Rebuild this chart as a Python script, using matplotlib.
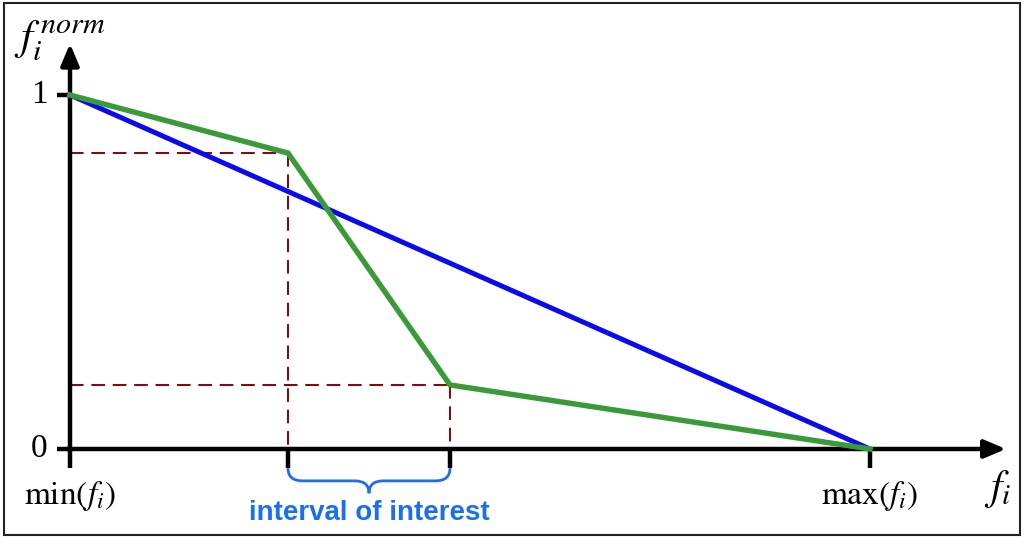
import numpy as np
import matplotlib.pyplot as plt
from matplotlib.patches import Rectangle
from matplotlib.path import Path
from matplotlib.patches import PathPatch

plt.rcParams['mathtext.fontset'] = 'stix'
plt.rcParams['font.family'] = ['Liberation Serif', 'DejaVu Serif']

# data
linear_x = [0.0, 1.0]
linear_y = [1.0, 0.0]
focus_x = [0.0, 0.2725, 0.475, 1.0]
focus_y = [1.0, 0.836, 0.181, 0.0]
interval = [focus_x[1], focus_x[2]]
x_labels = [r'$\mathrm{min}(f_i)$', r'$\mathrm{max}(f_i)$']
y_labels = ['0', '1']

fig = plt.figure(figsize=(10.24, 5.38), dpi=100)
ax = fig.add_axes([0, 0, 1, 1])
ax.set_xlim(-70 / 800, 954 / 800)
ax.set_ylim(-89 / 354, 449 / 354)
ax.axis('off')

# frame around figure
fig.patches.append(Rectangle((0.004, 0.006), 0.992, 0.988, transform=fig.transFigure,
                             fill=False, edgecolor='#222222', linewidth=1.5))

# dashed guides
for x0, y0 in zip(focus_x[1:3], focus_y[1:3]):
    ax.plot([0, x0], [y0, y0], color='#8b0000', lw=1.4, dashes=(7, 4), zorder=2)
    ax.plot([x0, x0], [y0, 0], color='#8b0000', lw=1.4, dashes=(7, 4), zorder=2)

# axes with arrows
arrow = dict(arrowstyle='-|>,head_length=1.3,head_width=0.55', lw=3.2, color='black',
             shrinkA=0, shrinkB=0)
ax.annotate('', xy=(1.17, 0), xytext=(-0.004, 0), arrowprops=arrow, zorder=3)
ax.annotate('', xy=(0, 1.145), xytext=(0, -0.006), arrowprops=arrow, zorder=3)

# ticks
for xt in [0.0, interval[0], interval[1], 1.0]:
    ax.plot([xt, xt], [0, -0.054], color='black', lw=3.2, solid_capstyle='butt', zorder=3)
for yt in [0.0, 1.0]:
    ax.plot([-0.016, 0], [yt, yt], color='black', lw=3.2, solid_capstyle='butt', zorder=3)

# lines
ax.plot(linear_x, linear_y, color='#0a0aee', lw=3.6, zorder=4)
ax.plot(focus_x, focus_y, color='#3a9a3a', lw=3.9, zorder=5, solid_joinstyle='miter')

# labels
ax.text(-0.028, 1.0, y_labels[1], fontsize=24, ha='right', va='center')
ax.text(-0.028, 0.0, y_labels[0], fontsize=24, ha='right', va='center')
ax.text(0.0, -0.085, x_labels[0], fontsize=24, ha='center', va='top')
ax.text(1.0, -0.085, x_labels[1], fontsize=24, ha='center', va='top')
ax.text(1.16, -0.055, r'$f_i$', fontsize=30, ha='center', va='top')
ax.text(-0.07, 1.09, r'$f_i^{\,norm}$', fontsize=31, ha='left', va='bottom')

# brace under interval of interest
xa, xb = interval
xm = (xa + xb) / 2
y0, y1, y2 = -0.054, -0.09, -0.125
r = 0.018
verts = [(xa, y0), (xa, y1), (xa + r, y1),
         (xm - r, y1), (xm, y1), (xm, y2),
         (xm, y1), (xm + r, y1),
         (xb - r, y1), (xb, y1), (xb, y0)]
codes = [Path.MOVETO, Path.CURVE3, Path.CURVE3,
         Path.LINETO, Path.CURVE3, Path.CURVE3,
         Path.CURVE3, Path.CURVE3,
         Path.LINETO, Path.CURVE3, Path.CURVE3]
ax.add_patch(PathPatch(Path(verts, codes), fill=False, edgecolor='#1a6ef0', lw=2, zorder=3))
ax.text(xm, -0.143, 'interval of interest', fontsize=20, fontweight='bold', color='#1a6ef0',
        family=['Liberation Sans', 'DejaVu Sans'], ha='center', va='top')

fig.savefig('out.png', dpi=100)
